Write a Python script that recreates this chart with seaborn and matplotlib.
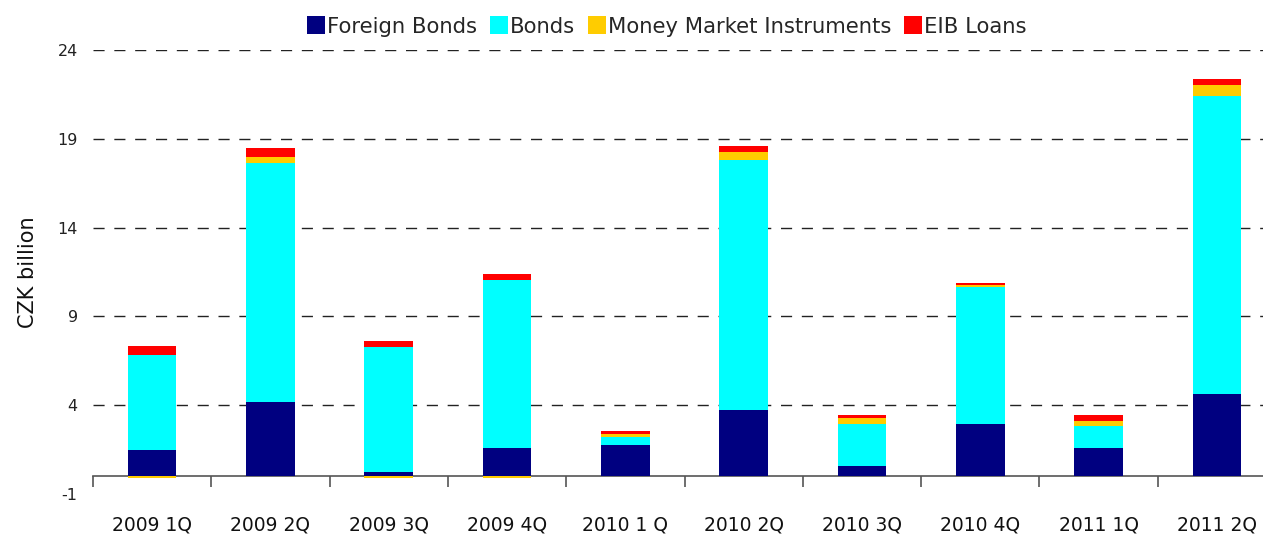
import matplotlib
matplotlib.use("Agg")
import matplotlib.pyplot as plt
import numpy as np
import pandas as pd
import seaborn as sns

quarters = ["2009 1Q", "2009 2Q", "2009 3Q", "2009 4Q", "2010 1 Q",
            "2010 2Q", "2010 3Q", "2010 4Q", "2011 1Q", "2011 2Q"]
foreign_bonds = [1.46, 4.16, 0.22, 1.57, 1.74, 3.71, 0.56, 2.92, 1.57, 4.61]
bonds = [5.39, 13.48, 7.08, 9.50, 0.47, 14.10, 2.36, 7.71, 1.24, 16.81]
money_market = [-0.12, 0.34, -0.12, -0.12, 0.15, 0.45, 0.34, 0.14, 0.28, 0.60]
eib_loans = [0.51, 0.50, 0.34, 0.33, 0.17, 0.34, 0.17, 0.13, 0.34, 0.34]

series = [("Foreign Bonds", foreign_bonds, "#000080"),
          ("Bonds", bonds, "#00FFFF"),
          ("Money Market Instruments", money_market, "#FFCC00"),
          ("EIB Loans", eib_loans, "#FF0000")]

sns.set_theme(style="white")
plt.rcParams["font.family"] = ["DejaVu Sans"]
plt.rcParams["axes.unicode_minus"] = False

fig = plt.figure(figsize=(12.63, 5.41), dpi=100)
ax = fig.add_axes([93 / 1263, 1 - 494 / 541, 1183 / 1263, 444 / 541])

# stack positives upward, negatives downward from zero
pos_base = np.zeros(len(quarters))
neg_base = np.zeros(len(quarters))
for name, vals, color in series:
    vals = np.array(vals)
    bottom = np.where(vals >= 0, pos_base, neg_base)
    df = pd.DataFrame({"quarter": quarters, "value": vals})
    sns.barplot(data=df, x="quarter", y="value", bottom=bottom, color=color,
                width=0.41, saturation=1, linewidth=0, label=name, ax=ax,
                zorder=3)
    pos_base = pos_base + np.where(vals >= 0, vals, 0)
    neg_base = neg_base + np.where(vals < 0, vals, 0)

ax.set_ylim(-1, 24)
ax.set_xlim(-0.5, len(quarters) - 0.5)
ax.set_yticks([-1, 4, 9, 14, 19, 24])
for y in [4, 9, 14, 19, 24]:
    ax.axhline(y, color="#222222", lw=1, ls=(0, (8, 7)), zorder=1)

for s in ["left", "right", "top"]:
    ax.spines[s].set_visible(False)
ax.spines["bottom"].set_position(("data", 0))
ax.spines["bottom"].set_color("#555555")
ax.spines["bottom"].set_linewidth(1.2)
ax.set_zorder(2)

ax.set_xticks(np.arange(len(quarters)))
ax.set_xticklabels(quarters, fontsize=13.5, color="#111111")
ax.set_xticks(np.arange(len(quarters) + 1) - 0.5, minor=True)
ax.tick_params(axis="x", which="major", length=0, pad=28)
ax.tick_params(axis="x", which="minor", length=8, width=1.2, color="#555555",
               direction="out", bottom=True)
ax.tick_params(axis="y", length=0, pad=11, labelsize=11.5, labelcolor="#222222")
ax.set_xlabel("")
ax.set_ylabel("CZK billion", fontsize=15, labelpad=14, color="#111111")

ax.legend(loc="upper center", bbox_to_anchor=(574 / 1183, 1.095), ncol=4,
          frameon=False, fontsize=15.2, handlelength=0.85, handleheight=0.95,
          handletextpad=0.1, columnspacing=0.6, borderaxespad=0)

fig.savefig("out.png", dpi=100)
